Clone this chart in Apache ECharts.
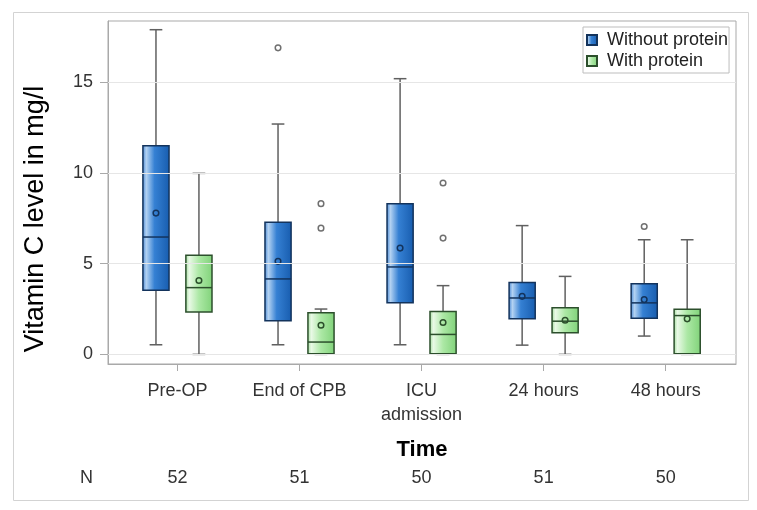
<!DOCTYPE html>
<html>
<head>
<meta charset="utf-8">
<script src="https://cdn.jsdelivr.net/npm/echarts@6/dist/echarts.min.js"></script>
<style>
html,body{margin:0;padding:0;background:#fff;}
#chart{width:757px;height:510px;}
</style>
</head>
<body>
<div id="chart"></div>
<script>
// ---- data ----
const categories = ['Pre-OP', 'End of CPB', 'ICU\nadmission', '24 hours', '48 hours'];
const nCounts = [52, 51, 50, 51, 50];
const yTicks = [0, 5, 10, 15];
// [min, q1, median, q3, max]
const withoutBoxes = [
  [0.53, 3.53, 6.47, 11.5, 17.9],
  [0.53, 1.85, 4.16, 7.29, 12.7],
  [0.53, 2.84, 4.82, 8.30, 15.2],
  [0.51, 1.96, 3.11, 3.97, 7.1],
  [1.01, 1.99, 2.84, 3.90, 6.32]
];
const withoutMeans = [7.79, 5.13, 5.86, 3.20, 3.02];
const withoutOutliers = [[], [16.9], [], [], [7.05]];
const withBoxes = [
  [0, 2.33, 3.68, 5.46, 9.98],
  [0, 0.03, 0.68, 2.29, 2.5],
  [0, 0.03, 1.10, 2.36, 3.79],
  [0, 1.19, 1.83, 2.57, 4.30],
  [0, 0.03, 2.14, 2.49, 6.32]
];
const withMeans = [4.07, 1.61, 1.76, 1.88, 1.96];
const withOutliers = [[], [8.31, 6.96], [9.45, 6.41], [], []];

// ---- styles ----
const FONT = 'Liberation Sans, Arial, sans-serif';
const blueFill = new echarts.graphic.LinearGradient(0, 0, 1, 0, [
  {offset: 0, color: '#3f82d2'}, {offset: 0.15, color: '#b3d2f2'},
  {offset: 0.45, color: '#3580d3'}, {offset: 1, color: '#175cae'}]);
const greenFill = new echarts.graphic.LinearGradient(0, 0, 1, 0, [
  {offset: 0, color: '#9ddc97'}, {offset: 0.15, color: '#e9f9e6'},
  {offset: 0.5, color: '#ace8a5'}, {offset: 1, color: '#80d279'}]);
const blueBorder = '#13335c';
const greenBorder = '#2c4f2c';
const whiskerColor = '#606060';

function makeSeries(name, boxes, means, outliers, side, fill, border) {
  const data = boxes.map((b, i) => [i + 1].concat(b, [means[i]]));
  return {
    name: name,
    type: 'custom',
    z: 3,
    itemStyle: {color: fill, borderColor: border, borderWidth: 1},
    data: data,
    encode: {x: 0, y: [1, 2, 3, 4, 5, 6]},
    renderItem: function (params, api) {
      const idx = params.dataIndex;
      const cat = api.value(0);
      const xc = api.coord([cat + side * 0.176, 0])[0];
      const hw = api.size([0.107, 0])[0];
      const cw = api.size([0.052, 0])[0];
      const y = v => api.coord([cat, v])[1];
      const yMin = y(api.value(1)), yQ1 = y(api.value(2)), yMed = y(api.value(3)),
            yQ3 = y(api.value(4)), yMax = y(api.value(5)), yMean = y(api.value(6));
      const lineStyle = {stroke: whiskerColor, lineWidth: 1.5};
      const children = [
        {type: 'line', shape: {x1: xc, y1: yQ3, x2: xc, y2: yMax}, style: lineStyle},
        {type: 'line', shape: {x1: xc, y1: yQ1, x2: xc, y2: yMin}, style: lineStyle},
        {type: 'line', shape: {x1: xc - cw, y1: yMax, x2: xc + cw, y2: yMax}, style: lineStyle},
        {type: 'line', shape: {x1: xc - cw, y1: yMin, x2: xc + cw, y2: yMin}, style: lineStyle},
        {type: 'rect', shape: {x: xc - hw, y: yQ3, width: 2 * hw, height: yQ1 - yQ3},
          style: {fill: fill, stroke: border, lineWidth: 1.5}},
        {type: 'line', shape: {x1: xc - hw, y1: yMed, x2: xc + hw, y2: yMed},
          style: {stroke: border, lineWidth: 1.5}},
        {type: 'circle', shape: {cx: xc, cy: yMean, r: 2.8},
          style: {fill: 'none', stroke: border, lineWidth: 1.5}}
      ];
      outliers[idx].forEach(o => {
        children.push({type: 'circle', shape: {cx: xc, cy: y(o), r: 2.8},
          style: {fill: '#fff', stroke: '#707070', lineWidth: 1.5}});
      });
      return {type: 'group', children: children};
    }
  };
}

const chart = echarts.init(document.getElementById('chart'), null, {renderer: 'canvas'});
chart.setOption({
  animation: false,
  backgroundColor: '#fff',
  textStyle: {fontFamily: FONT},
  graphic: [{
    type: 'rect', left: 11, top: 10, silent: true,
    shape: {width: 735, height: 488},
    style: {fill: 'none', stroke: '#d3d3d3', lineWidth: 1}
  }],
  legend: {
    orient: 'vertical', left: 583, top: 27,
    padding: [4, 1, 3, 3], itemGap: 3, itemWidth: 10, itemHeight: 10,
    borderColor: '#bdbdbd', borderWidth: 1, icon: 'rect',
    textStyle: {fontSize: 18, color: '#222', fontFamily: FONT, padding: [0, 0, 0, 5]},
    data: ['Without protein', 'With protein']
  },
  grid: {left: 108, right: 21, top: 21, bottom: 146, show: true,
    borderColor: '#a9a9a9', borderWidth: 1, backgroundColor: '#fff'},
  xAxis: [{
    type: 'value', min: 0.431, max: 5.576,
    name: 'Time', nameLocation: 'middle', nameGap: 75,
    nameTextStyle: {fontSize: 22, fontWeight: 'bold', color: '#000', fontFamily: FONT},
    axisLine: {show: true, onZero: false, lineStyle: {color: '#a9a9a9'}},
    axisTick: {show: true, length: 7, lineStyle: {color: '#a9a9a9'}, customValues: [1, 2, 3, 4, 5]},
    splitLine: {show: false},
    axisLabel: {customValues: [1, 2, 3, 4, 5], formatter: v => categories[Math.round(v) - 1],
      fontSize: 18, color: '#333', margin: 15, lineHeight: 24, fontFamily: FONT}
  }, {
    type: 'value', min: 0.431, max: 5.576, position: 'bottom', offset: 114,
    name: 'N', nameLocation: 'start', nameGap: 15,
    nameTextStyle: {fontSize: 18, color: '#333', fontFamily: FONT, verticalAlign: 'middle'},
    axisLine: {show: false, onZero: false}, axisTick: {show: false}, splitLine: {show: false},
    axisLabel: {customValues: [1, 2, 3, 4, 5], formatter: v => String(nCounts[Math.round(v) - 1]),
      fontSize: 18, color: '#333', margin: 0, verticalAlign: 'middle', fontFamily: FONT}
  }],
  yAxis: {
    type: 'value', min: -0.53, max: 18.38,
    name: 'Vitamin C level in mg/l', nameLocation: 'middle', nameGap: 59, nameRotate: 90,
    nameTextStyle: {fontSize: 27, color: '#000', fontFamily: FONT, padding: [0, 53, 0, 0]},
    axisLine: {show: true, onZero: false, lineStyle: {color: '#a9a9a9'}},
    axisTick: {show: true, length: 8, lineStyle: {color: '#a9a9a9'}, customValues: yTicks},
    splitLine: {show: false},
    axisLabel: {customValues: yTicks, fontSize: 18, color: '#333', margin: 15, fontFamily: FONT}
  },
  series: [
    makeSeries('Without protein', withoutBoxes, withoutMeans, withoutOutliers, -1, blueFill, blueBorder),
    makeSeries('With protein', withBoxes, withMeans, withOutliers, 1, greenFill, greenBorder),
    {
      type: 'line', data: [], silent: true, z: 1,
      markLine: {silent: true, symbol: 'none', label: {show: false},
        lineStyle: {color: '#e6e6e6', type: 'solid', width: 1},
        data: yTicks.map(v => ({yAxis: v}))}
    }
  ]
});
</script>
</body>
</html>
